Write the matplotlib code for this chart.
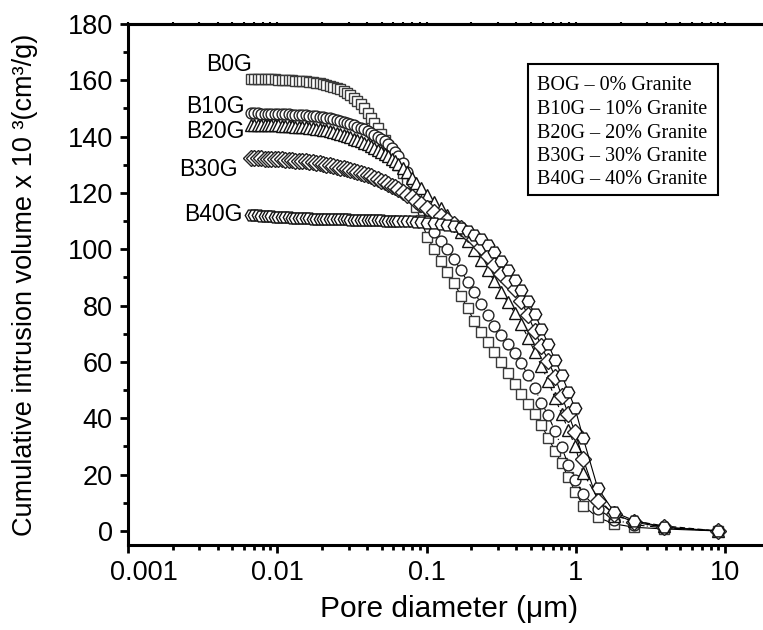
import numpy as np
import matplotlib.pyplot as plt
from matplotlib.ticker import FixedLocator, LogLocator, NullFormatter, MultipleLocator
from matplotlib.patches import Rectangle
from matplotlib.transforms import ScaledTranslation

plt.rcParams['font.family'] = ['Liberation Sans', 'DejaVu Sans']

# pore diameter (um), shared by all samples
diameter = [0.00665, 0.00701, 0.00740, 0.00780, 0.00822, 0.00867, 0.00914, 0.00964, 0.01016, 0.01072,
            0.01130, 0.01191, 0.01256, 0.01324, 0.01396, 0.01472, 0.01552, 0.01637, 0.01726, 0.01820,
            0.01919, 0.02023, 0.02133, 0.02249, 0.02371, 0.02500, 0.02636, 0.02780, 0.02931, 0.03090,
            0.03258, 0.03436, 0.03622, 0.03819, 0.04027, 0.04246, 0.04477, 0.04721, 0.04977, 0.05248,
            0.05534, 0.05834, 0.06152, 0.06486, 0.0692, 0.0741, 0.0794, 0.0851, 0.0912, 0.1012,
            0.1122, 0.1245, 0.1380, 0.1531, 0.1698, 0.1884, 0.2089, 0.2317, 0.2570, 0.2851,
            0.3162, 0.3508, 0.3890, 0.4315, 0.4786, 0.5309, 0.5888, 0.6531, 0.7244, 0.8035,
            0.8913, 0.989, 1.12, 1.40, 1.81, 2.46, 3.91, 8.9]

# cumulative intrusion volume x 10^3 (cm3/g)
b0g = [160.5, 160.5, 160.4, 160.4, 160.4, 160.3, 160.3, 160.3, 160.2, 160.2,
       160.1, 160.1, 160.0, 159.9, 159.8, 159.7, 159.6, 159.5, 159.3, 159.1,
       158.9, 158.7, 158.4, 158.1, 157.7, 157.3, 156.8, 156.2, 155.5, 154.7,
       153.8, 152.8, 151.5, 150.0, 148.5, 146.8, 145.0, 143.0, 141.0, 138.8,
       136.6, 134.4, 132.2, 130.0, 127.0, 123.5, 119.5, 115.0, 110.5, 104.5,
       100.0, 96.0, 92.0, 88.0, 83.5, 79.0, 74.5, 70.5, 67.0, 63.5,
       60.0, 56.0, 52.0, 48.5, 45.0, 41.5, 37.5, 33.0, 28.5, 24.0,
       19.0, 14.0, 9.0, 4.8, 2.5, 1.3, 0.7, 0.0]

b10g = [148.3, 148.3, 148.3, 148.2, 148.2, 148.2, 148.1, 148.1, 148.0, 148.0,
        147.9, 147.9, 147.8, 147.8, 147.7, 147.7, 147.6, 147.5, 147.4, 147.3,
        147.1, 146.9, 146.7, 146.5, 146.2, 145.9, 145.6, 145.3, 144.9, 144.5,
        144.1, 143.6, 143.1, 142.6, 142.0, 141.4, 140.7, 140.0, 139.2, 138.3,
        137.3, 136.1, 134.7, 133.2, 130.5, 127.5, 124.0, 120.0, 115.5, 110.0,
        106.3, 103.0, 100.0, 96.5, 92.5, 88.5, 85.0, 80.5, 76.5, 72.8,
        69.5, 66.5, 63.2, 59.5, 55.3, 50.6, 45.5, 41.0, 35.5, 29.7,
        23.5, 18.2, 13.0, 7.8, 4.0, 2.2, 1.1, 0.0]

b20g = [144.3, 144.3, 144.2, 144.2, 144.2, 144.1, 144.1, 144.0, 144.0, 143.9,
        143.9, 143.8, 143.7, 143.6, 143.5, 143.4, 143.3, 143.2, 143.0, 142.8,
        142.6, 142.4, 142.2, 141.9, 141.6, 141.3, 141.0, 140.6, 140.2, 139.8,
        139.3, 138.8, 138.3, 137.8, 137.3, 136.7, 136.1, 135.4, 134.7, 133.9,
        133.1, 132.2, 131.3, 130.3, 129.0, 127.3, 125.4, 123.6, 121.8, 119.3,
        116.8, 114.5, 112.2, 109.5, 106.3, 103.0, 99.7, 96.3, 92.5, 88.6,
        84.8, 81.2, 77.5, 73.3, 68.6, 63.6, 58.5, 53.2, 47.3, 41.5,
        36.0, 30.0, 20.5, 11.9, 5.4, 3.5, 1.8, 0.0]

b30g = [132.4, 132.4, 132.3, 132.3, 132.2, 132.2, 132.1, 132.0, 132.0, 131.9,
        131.8, 131.7, 131.6, 131.5, 131.4, 131.3, 131.2, 131.0, 130.9, 130.7,
        130.5, 130.3, 130.1, 129.9, 129.6, 129.3, 129.0, 128.7, 128.4, 128.1,
        127.8, 127.4, 127.1, 126.7, 126.3, 125.9, 125.4, 124.9, 124.4, 123.8,
        123.2, 122.6, 122.0, 121.3, 120.4, 119.4, 118.4, 117.3, 116.2, 114.7,
        113.2, 111.8, 110.4, 109.0, 107.4, 105.6, 103.5, 100.8, 97.6, 94.4,
        91.4, 88.6, 85.8, 81.5, 76.5, 71.0, 65.5, 60.5, 54.8, 48.0,
        41.5, 35.0, 25.5, 10.7, 6.0, 3.1, 1.3, 0.0]

b40g = [112.3, 112.2, 112.1, 112.0, 111.9, 111.8, 111.7, 111.6, 111.5, 111.4,
        111.4, 111.3, 111.2, 111.2, 111.1, 111.1, 111.0, 111.0, 110.9, 110.9,
        110.8, 110.8, 110.8, 110.7, 110.7, 110.7, 110.6, 110.6, 110.6, 110.5,
        110.5, 110.5, 110.5, 110.4, 110.4, 110.4, 110.3, 110.3, 110.3, 110.2,
        110.2, 110.2, 110.1, 110.1, 110.0, 110.0, 109.9, 109.8, 109.7, 109.5,
        109.3, 109.0, 108.6, 108.1, 107.4, 106.5, 105.2, 103.6, 101.6, 99.0,
        96.0, 92.6, 89.0, 85.4, 81.5, 77.0, 71.8, 66.3, 60.8, 55.4,
        49.5, 43.5, 33.0, 15.3, 6.6, 3.7, 1.3, 0.0]

series_names = ['B0G', 'B10G', 'B20G', 'B30G', 'B40G']
series_values = [b0g, b10g, b20g, b30g, b40g]
legend_lines = ['BOG \u2013 0% Granite', 'B10G \u2013 10% Granite', 'B20G \u2013 20% Granite',
                'B30G \u2013 30% Granite', 'B40G \u2013 40% Granite']

x_ticks = [0.001, 0.01, 0.1, 1, 10]
x_tick_labels = ['0.001', '0.01', '0.1', '1', '10']
y_ticks = [0, 20, 40, 60, 80, 100, 120, 140, 160, 180]

markers = ['s', 'o', '^', 'D', 'H']
sizes = [7.3, 7.8, 9.0, 8.0, 9.0]
edges = ['#3a3a3a', '#222222', '#111111', '#222222', '#111111']
styles = ['-', (0, (6, 2, 1, 2)), (0, (5, 3)), '-', '-']

# label anchor points (right end of each text)
label_x = [0.00675, 0.00607, 0.00607, 0.00544, 0.00588]
label_y = [165.5, 150.6, 141.7, 128.3, 112.3]

fig = plt.figure(figsize=(7.63, 6.30), dpi=100)
ax = fig.add_axes([0.1678, 0.1349, 0.8414, 0.8270])

for name, vals, m, ms, ec, ls in zip(series_names, series_values, markers, sizes, edges, styles):
    ax.plot(diameter, vals, linestyle=ls, color='black', lw=0.8, marker=m, ms=ms,
            mfc='white', mec=ec, mew=1.0, label=name)

for name, lx, ly in zip(series_names, label_x, label_y):
    ax.text(lx, ly, name, ha='right', va='center', fontsize=16.5)

ax.set_xscale('log')
ax.set_xlim(0.001, 20)
ax.set_ylim(-5, 180)

ax.xaxis.set_major_locator(FixedLocator(x_ticks))
ax.set_xticklabels(x_tick_labels)
ax.xaxis.set_minor_locator(LogLocator(base=10, subs=np.arange(2, 10)))
ax.xaxis.set_minor_formatter(NullFormatter())
ax.set_yticks(y_ticks)
ax.yaxis.set_minor_locator(MultipleLocator(10))

for s in ['left', 'bottom', 'top']:
    ax.spines[s].set_linewidth(2.2)
ax.spines['right'].set_visible(False)
ax.tick_params(which='major', direction='out', length=6, width=2, labelsize=19.5, pad=5)
ax.tick_params(which='minor', direction='out', length=3.5, width=2)
ax.tick_params(top=False, right=False)

sec = ax.secondary_xaxis('top')
sec.set_xscale('log')
sec.xaxis.set_major_locator(FixedLocator(x_ticks))
sec.xaxis.set_minor_locator(LogLocator(base=10, subs=np.arange(2, 10)))
sec.tick_params(which='both', direction='inout', length=2.5, width=1.5, labeltop=False)
sec.spines['top'].set_linewidth(2.2)

ax.set_xlabel('Pore diameter (\u03bcm)', fontsize=21.5)
ax.set_ylabel('Cumulative intrusion volume x 10 \u00b3(cm\u00b3/g)', fontsize=19.5)
ax.xaxis.set_label_coords((449 - 128) / 642, -0.095)
ax.yaxis.set_label_coords(-0.14, 0.5)

# first tick label sits a little right of its tick, as in the original
first = ax.get_xticklabels()[0]
first.set_transform(first.get_transform() + ScaledTranslation(0.16, 0, fig.dpi_scale_trans))

# legend box drawn as a plain text panel
fig.patches.append(Rectangle((528 / 763, 1 - 195 / 630), 190 / 763, 131 / 630,
                             transform=fig.transFigure, fill=False, ec='black', lw=1.5))
for i, line in enumerate(legend_lines):
    fig.text(537 / 763, 1 - (86 + 23.5 * i) / 630, line, ha='left', va='center',
             fontsize=14.5, family=['Liberation Serif', 'DejaVu Serif'])

fig.savefig('out.png', dpi=100)
